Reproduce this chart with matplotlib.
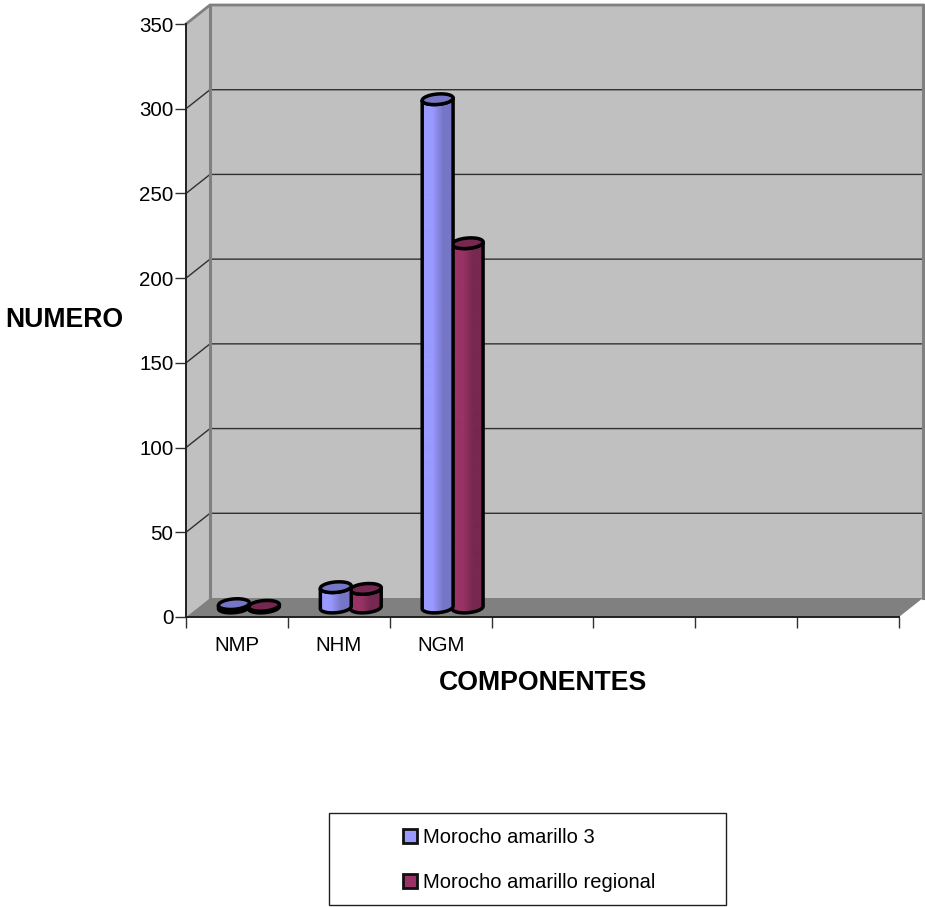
import matplotlib
matplotlib.use("Agg")
import matplotlib.pyplot as plt
import numpy as np
from matplotlib.colors import LinearSegmentedColormap
from matplotlib.patches import Polygon, Rectangle

plt.rcParams['font.family'] = ['Liberation Sans', 'DejaVu Sans']

categories = ['NMP', 'NHM', 'NGM', '', '', '', '']
morocho_3 = [2, 12, 300]
morocho_regional = [1, 11, 215]
y_ticks = [0, 50, 100, 150, 200, 250, 300, 350]
series_names = ['Morocho amarillo 3', 'Morocho amarillo regional']
series_colors = ['#9999FF', '#993366']
shade_colors = ['#7676C6', '#772850']

W, H = 925, 907
fig = plt.figure(figsize=(W / 100, H / 100), dpi=100)

# axes box is the front plane of the 3d chart
left, right, top, bottom = 186, 899, 24, 617
ax = fig.add_axes([left / W, 1 - bottom / H, (right - left) / W, (bottom - top) / H])
n_cat = len(categories)
ax.set_xlim(0, n_cat)
ax.set_ylim(0, 350)
ax.patch.set_visible(False)

px_x = n_cat / (right - left)
px_y = 350 / (bottom - top)
depth_x = 24 * px_x
depth_y = 19 * px_y

# walls and floor
side = Polygon([(0, 0), (depth_x, depth_y), (depth_x, 350 + depth_y), (0, 350)],
               fc='#C0C0C0', ec='none', clip_on=False, zorder=1)
back = Polygon([(depth_x, depth_y), (n_cat + depth_x, depth_y),
                (n_cat + depth_x, 350 + depth_y), (depth_x, 350 + depth_y)],
               fc='#C0C0C0', ec='none', clip_on=False, zorder=1)
floor = Polygon([(0, 0), (n_cat, 0), (n_cat + depth_x, depth_y), (depth_x, depth_y)],
                fc='#808080', ec='none', clip_on=False, zorder=1.5)
for p in (side, back, floor):
    ax.add_patch(p)

# gridlines run along the side wall, then across the back wall
for v in y_ticks[1:]:
    c = '#808080' if v == 350 else '#303030'
    lw = 2 if v == 350 else 1
    ax.plot([0, depth_x, n_cat + depth_x], [v, v + depth_y, v + depth_y],
            color=c, lw=lw, clip_on=False, zorder=2, solid_joinstyle='miter')

ax.plot([depth_x, depth_x], [depth_y, 350 + depth_y], color='#808080', lw=2.2, clip_on=False, zorder=2)
ax.plot([n_cat + depth_x] * 2, [depth_y, 350 + depth_y], color='#808080', lw=2.2, clip_on=False, zorder=2)


def ellipse_xy(xc, yc, t):
    # tilted ellipse, computed in pixels and converted back to data units
    a, b, tilt = 15.5, 5.2, np.radians(5)
    ex = a * np.cos(t)
    ey = b * np.sin(t)
    return (xc + (ex * np.cos(tilt) - ey * np.sin(tilt)) * px_x,
            yc + (ex * np.sin(tilt) + ey * np.cos(tilt)) * px_y)


def draw_cylinder(xc, value, color, shade, z):
    base = depth_y / 2
    top_y = base + value
    t_front = np.linspace(np.pi, 2 * np.pi, 40)
    bx, by = ellipse_xy(xc, base, t_front)
    tx, ty = ellipse_xy(xc, top_y, t_front[::-1])
    body = Polygon(np.column_stack([np.r_[bx, tx], np.r_[by, ty]]), fc='none', ec='none',
                   clip_on=False, zorder=z)
    ax.add_patch(body)

    # side shading across the cylinder
    cmap = LinearSegmentedColormap.from_list('c', [color, color, shade, shade])
    grad = np.linspace(0, 1, 64).reshape(1, -1)
    half = 16 * px_x
    im = ax.imshow(grad, cmap=cmap, extent=[xc - half, xc + half, base - 8 * px_y, top_y + 8 * px_y],
                   aspect='auto', zorder=z, clip_on=True)
    im.set_clip_path(body)

    ax.add_patch(Polygon(np.column_stack([np.r_[bx, tx], np.r_[by, ty]]), fc='none', ec='black',
                         lw=2.5, clip_on=False, zorder=z + 0.1, joinstyle='round'))
    ex, ey = ellipse_xy(xc, top_y, np.linspace(0, 2 * np.pi, 80))
    ax.add_patch(Polygon(np.column_stack([ex, ey]), fc=shade, ec='black', lw=2.5,
                         clip_on=False, zorder=z + 0.2))


bar_w = 30 * px_x
for i in range(len(morocho_3)):
    center = i + 0.5 + depth_x / 2
    draw_cylinder(center + bar_w / 2, morocho_regional[i], series_colors[1], shade_colors[1], 3)
    draw_cylinder(center - bar_w / 2, morocho_3[i], series_colors[0], shade_colors[0], 4)

ax.set_xlim(0, n_cat)
ax.set_ylim(0, 350)

for s in ('top', 'right'):
    ax.spines[s].set_visible(False)
for s in ('left', 'bottom'):
    ax.spines[s].set_color('#202020')
    ax.spines[s].set_linewidth(1.4)
    ax.spines[s].set_zorder(2.5)

ax.set_yticks(y_ticks)
ax.set_xticks(range(n_cat + 1))
ax.set_xticklabels([])
ax.set_xticks(np.arange(n_cat) + 0.5, labels=categories, minor=True)
ax.tick_params(axis='both', which='major', length=8, width=1, color='#303030', labelsize=14.8, pad=1)
ax.tick_params(axis='x', which='minor', length=0, labelsize=14.8, pad=14)

fig.text(64.5 / W, 1 - 320 / H, 'NUMERO', fontsize=19.2, fontweight='bold', ha='center', va='center')
fig.text(543.5 / W, 1 - 683 / H, 'COMPONENTES', fontsize=19.2, fontweight='bold', ha='center', va='center')

# legend box
lax = fig.add_axes([0, 0, 1, 1])
lax.set_xlim(0, W)
lax.set_ylim(H, 0)
lax.axis('off')
lax.add_patch(Rectangle((328.5, 812.5), 397, 92, fc='white', ec='#202020', lw=1))
for y, name, color in zip([836, 881], series_names, series_colors):
    lax.add_patch(Rectangle((403, y - 7), 14, 14, fc=color, ec='#101010', lw=2))
    lax.text(423, y + 1.5, name, fontsize=14.5, va='center', ha='left')

fig.savefig('out.png', dpi=100)
